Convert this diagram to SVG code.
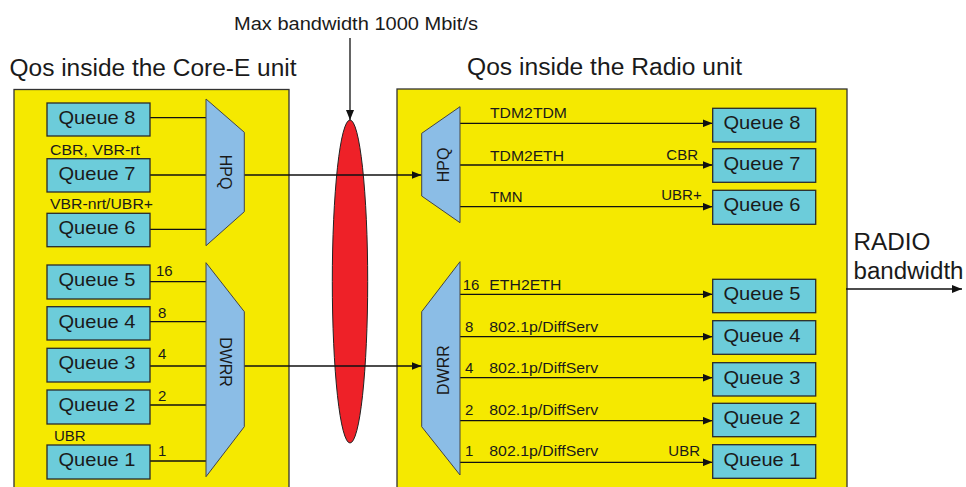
<svg xmlns="http://www.w3.org/2000/svg" width="966" height="487" viewBox="0 0 966 487">
<defs>
<style>
text{font-family:"Liberation Sans",Arial,sans-serif;fill:#1a1a1a}
.unit{fill:#F5E900;stroke:#333;stroke-width:1.3}
.q rect{fill:#6CCCDA;stroke:#2a2a2a;stroke-width:1.3}
.q text{font-size:18.5px;text-anchor:middle}
.trap{fill:#8BBDE6;stroke:#444;stroke-width:1}
.trap-l{font-size:16px;text-anchor:middle}
.lbl{font-size:15px}
.title{font-size:23.5px}
.con line{stroke:#111;stroke-width:1.3;fill:none}
.arr{marker-end:url(#ah)}
</style>
<marker id="ah" markerUnits="userSpaceOnUse" markerWidth="10" markerHeight="8" refX="10" refY="4" orient="auto">
<path d="M0,0 L10,4 L0,8 z" fill="#111"/>
</marker>
</defs>
<rect width="966" height="487" fill="#fff"/>

<g id="titles">
<text class="title" x="9.5" y="76" textLength="287" lengthAdjust="spacingAndGlyphs">Qos inside the Core-E unit</text>
<text class="title" x="467" y="75" textLength="275" lengthAdjust="spacingAndGlyphs">Qos inside the Radio unit</text>
<text x="234" y="29.5" font-size="17.5" textLength="244" lengthAdjust="spacingAndGlyphs">Max bandwidth 1000 Mbit/s</text>
<text x="853.5" y="250" font-size="23.5" textLength="77" lengthAdjust="spacingAndGlyphs">RADIO</text>
<text x="853.5" y="279" font-size="23.5" textLength="110" lengthAdjust="spacingAndGlyphs">bandwidth</text>
</g>

<g id="core-e-unit"><rect class="unit" x="14" y="89.5" width="275" height="410"/></g>
<g id="radio-unit"><rect class="unit" x="397" y="89" width="450" height="410"/></g>

<g id="link"><ellipse cx="350" cy="281.5" rx="17.7" ry="161.5" fill="#EE2128" stroke="#222" stroke-width="1"/></g>

<g class="con" id="connectors">
<line x1="150" y1="117.7" x2="206" y2="117.7"/>
<line x1="150" y1="175" x2="206" y2="175"/>
<line x1="150" y1="229.3" x2="206" y2="229.3"/>
<line x1="150" y1="281.7" x2="206" y2="281.7"/>
<line x1="150" y1="321.7" x2="206" y2="321.7"/>
<line x1="150" y1="366" x2="206" y2="366"/>
<line x1="150" y1="405" x2="206" y2="405"/>
<line x1="150" y1="461" x2="206" y2="461"/>
<line class="arr" x1="244" y1="175" x2="421.5" y2="175"/>
<line class="arr" x1="244" y1="366" x2="421.5" y2="366"/>
<line class="arr" x1="350" y1="38" x2="350" y2="120"/>
<line class="arr" x1="460" y1="123.3" x2="712.5" y2="123.3"/>
<line class="arr" x1="460" y1="165" x2="712.5" y2="165"/>
<line class="arr" x1="460" y1="206.7" x2="712.5" y2="206.7"/>
<line class="arr" x1="460" y1="294.3" x2="712.5" y2="294.3"/>
<line class="arr" x1="460" y1="336.7" x2="712.5" y2="336.7"/>
<line class="arr" x1="460" y1="377.7" x2="712.5" y2="377.7"/>
<line class="arr" x1="460" y1="420.7" x2="712.5" y2="420.7"/>
<line class="arr" x1="460" y1="462.3" x2="712.5" y2="462.3"/>
<line class="arr" x1="846" y1="289" x2="962" y2="289"/>
</g>

<g id="hpq-core">
<polygon class="trap" points="206,99 244.3,132.3 244.3,211.7 206,245.7"/>
<text class="trap-l" transform="translate(225,172) rotate(90)" y="5.5">HPQ</text>
</g>
<g id="dwrr-core">
<polygon class="trap" points="206,262.7 244.3,311.7 244.3,426.7 206,476.7"/>
<text class="trap-l" transform="translate(225,362) rotate(90)" y="5.5">DWRR</text>
</g>
<g id="hpq-radio">
<polygon class="trap" points="421.7,133.3 460,106.7 460,222.7 421.7,196"/>
<text class="trap-l" transform="translate(443,165) rotate(-90)" y="5.5">HPQ</text>
</g>
<g id="dwrr-radio">
<polygon class="trap" points="421.7,311.7 460,261.7 460,475 421.7,426.7"/>
<text class="trap-l" transform="translate(443,370) rotate(-90)" y="5.5">DWRR</text>
</g>

<g id="core-q8" class="q"><rect x="47" y="103" width="103" height="33"/><text x="97" y="123.5" textLength="77" lengthAdjust="spacingAndGlyphs">Queue 8</text></g>
<g id="core-q7" class="q"><rect x="47" y="158.7" width="103" height="33.3"/><text x="97" y="179.5" textLength="77" lengthAdjust="spacingAndGlyphs">Queue 7</text></g>
<g id="core-q6" class="q"><rect x="47" y="213.3" width="103" height="33.4"/><text x="97" y="234" textLength="77" lengthAdjust="spacingAndGlyphs">Queue 6</text></g>
<g id="core-q5" class="q"><rect x="47" y="265" width="103" height="34"/><text x="97" y="286" textLength="77" lengthAdjust="spacingAndGlyphs">Queue 5</text></g>
<g id="core-q4" class="q"><rect x="47" y="306.7" width="103" height="33.3"/><text x="97" y="327.5" textLength="77" lengthAdjust="spacingAndGlyphs">Queue 4</text></g>
<g id="core-q3" class="q"><rect x="47" y="348.3" width="103" height="33.7"/><text x="97" y="369" textLength="77" lengthAdjust="spacingAndGlyphs">Queue 3</text></g>
<g id="core-q2" class="q"><rect x="47" y="390" width="103" height="34"/><text x="97" y="411" textLength="77" lengthAdjust="spacingAndGlyphs">Queue 2</text></g>
<g id="core-q1" class="q"><rect x="47" y="445" width="103" height="34"/><text x="97" y="466" textLength="77" lengthAdjust="spacingAndGlyphs">Queue 1</text></g>

<g id="radio-q8" class="q"><rect x="712.7" y="108.3" width="103" height="33.7"/><text x="762" y="128.5" textLength="77" lengthAdjust="spacingAndGlyphs">Queue 8</text></g>
<g id="radio-q7" class="q"><rect x="712.7" y="148.7" width="103" height="33.6"/><text x="762" y="169.5" textLength="77" lengthAdjust="spacingAndGlyphs">Queue 7</text></g>
<g id="radio-q6" class="q"><rect x="712.7" y="190.3" width="103" height="34"/><text x="762" y="211" textLength="77" lengthAdjust="spacingAndGlyphs">Queue 6</text></g>
<g id="radio-q5" class="q"><rect x="712.7" y="279.3" width="103" height="33.4"/><text x="762" y="300" textLength="77" lengthAdjust="spacingAndGlyphs">Queue 5</text></g>
<g id="radio-q4" class="q"><rect x="712.7" y="320.7" width="103" height="33.6"/><text x="762" y="341.5" textLength="77" lengthAdjust="spacingAndGlyphs">Queue 4</text></g>
<g id="radio-q3" class="q"><rect x="712.7" y="362.7" width="103" height="33.3"/><text x="762" y="383.5" textLength="77" lengthAdjust="spacingAndGlyphs">Queue 3</text></g>
<g id="radio-q2" class="q"><rect x="712.7" y="403.3" width="103" height="33.4"/><text x="762" y="424" textLength="77" lengthAdjust="spacingAndGlyphs">Queue 2</text></g>
<g id="radio-q1" class="q"><rect x="712.7" y="444.7" width="103" height="33.6"/><text x="762" y="465.5" textLength="77" lengthAdjust="spacingAndGlyphs">Queue 1</text></g>

<g id="labels" class="lbl">
<text x="50" y="155" textLength="90" lengthAdjust="spacingAndGlyphs">CBR, VBR-rt</text>
<text x="50" y="209" textLength="103" lengthAdjust="spacingAndGlyphs">VBR-nrt/UBR+</text>
<text x="54" y="440.5">UBR</text>
<text x="156" y="276">16</text>
<text x="158" y="317.5">8</text>
<text x="158" y="359">4</text>
<text x="158" y="400.5">2</text>
<text x="158" y="455.5">1</text>
<text x="490" y="117.7" textLength="77" lengthAdjust="spacingAndGlyphs">TDM2TDM</text>
<text x="490" y="161" textLength="74" lengthAdjust="spacingAndGlyphs">TDM2ETH</text>
<text x="490" y="202.3">TMN</text>
<text x="698" y="160" text-anchor="end">CBR</text>
<text x="701.7" y="200" text-anchor="end">UBR+</text>
<text x="462.7" y="290">16</text>
<text x="489.3" y="290" textLength="72" lengthAdjust="spacingAndGlyphs">ETH2ETH</text>
<text x="465" y="332.3">8</text>
<text x="489.3" y="332.3" textLength="109" lengthAdjust="spacingAndGlyphs">802.1p/DiffServ</text>
<text x="465" y="373.3">4</text>
<text x="489.3" y="373.3" textLength="109" lengthAdjust="spacingAndGlyphs">802.1p/DiffServ</text>
<text x="465" y="415">2</text>
<text x="489.3" y="415" textLength="109" lengthAdjust="spacingAndGlyphs">802.1p/DiffServ</text>
<text x="465" y="456">1</text>
<text x="489.3" y="456" textLength="109" lengthAdjust="spacingAndGlyphs">802.1p/DiffServ</text>
<text x="700" y="456" text-anchor="end">UBR</text>
</g>
</svg>
